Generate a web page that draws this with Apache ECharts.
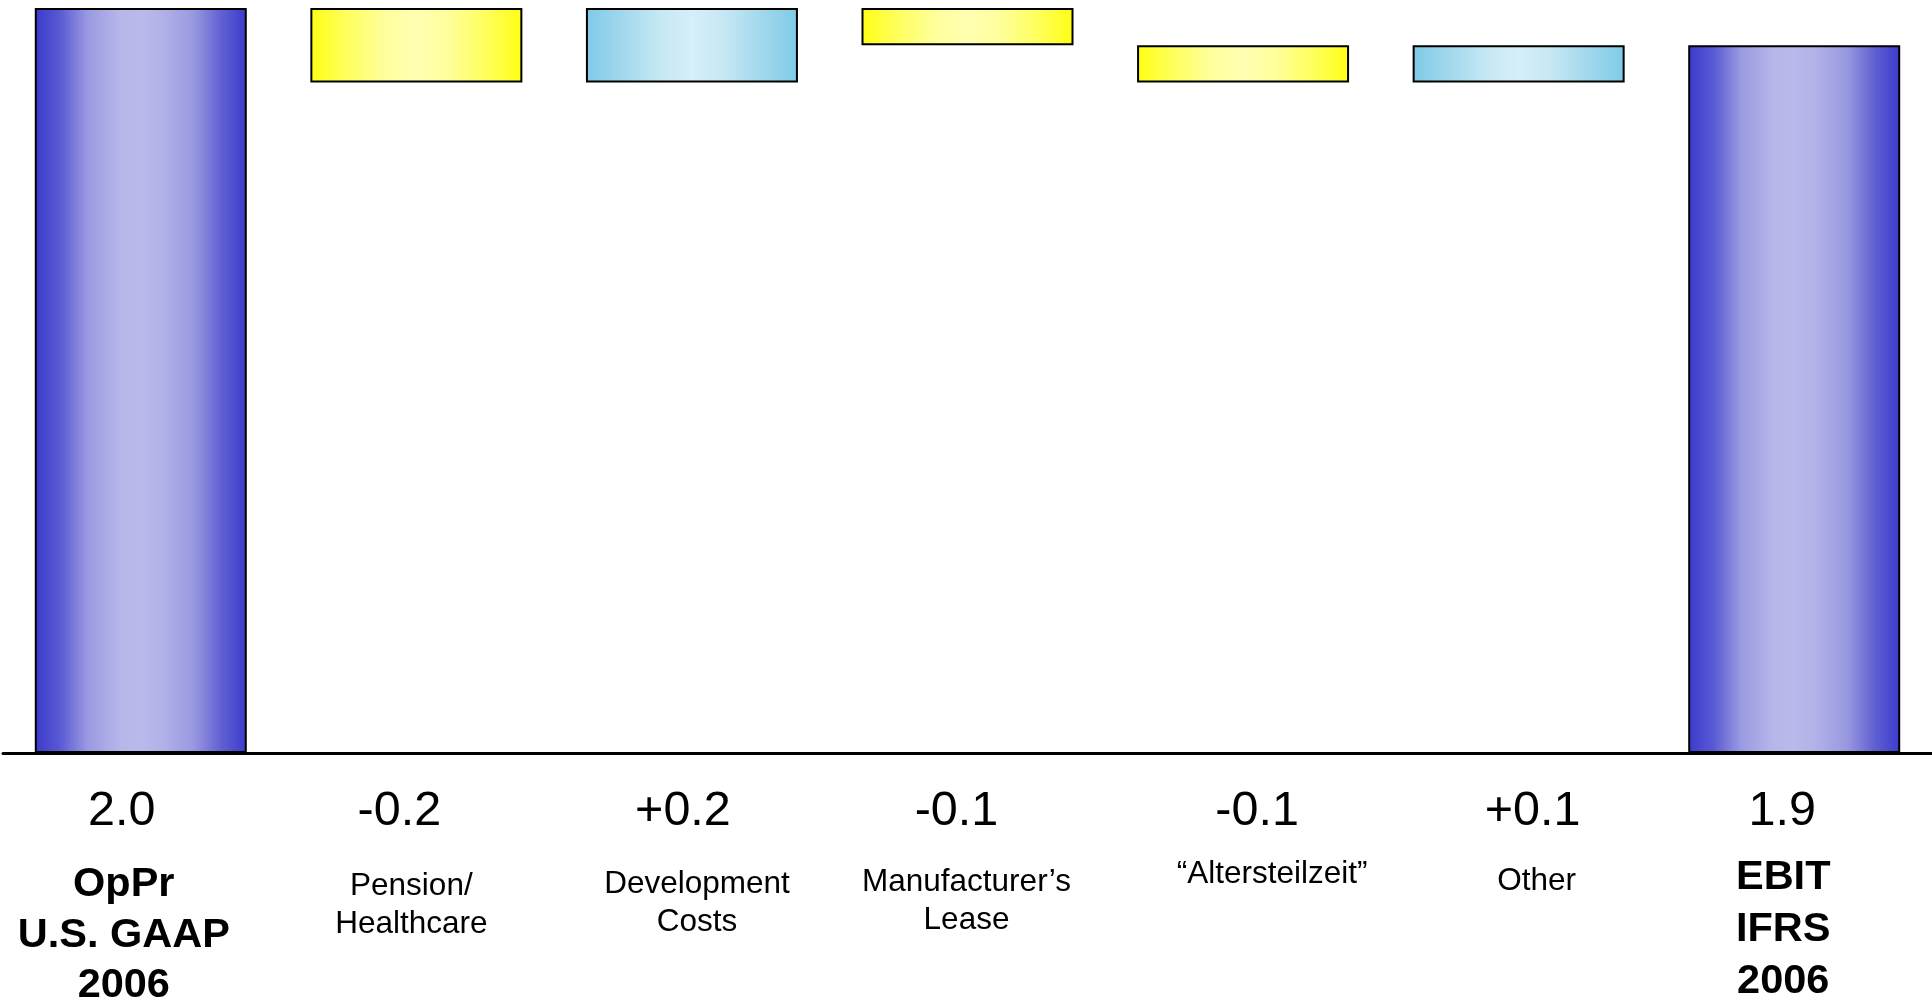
<!DOCTYPE html>
<html>
<head>
<meta charset="utf-8">
<title>OpPr U.S. GAAP 2006 to EBIT IFRS 2006</title>
<script src="https://cdn.jsdelivr.net/npm/echarts@6/dist/echarts.min.js"></script>
<style>
  html, body { margin: 0; padding: 0; background: #ffffff; }
  #chart { width: 1932px; height: 999px; }
</style>
</head>
<body>
<div id="chart"></div>
<script>
// Bridge from U.S. GAAP operating profit to IFRS EBIT (2006)
const categories = [
  'OpPr\nU.S. GAAP\n2006',
  'Pension/\nHealthcare',
  'Development\nCosts',
  'Manufacturer’s\nLease',
  '“Altersteilzeit”',
  'Other',
  'EBIT\nIFRS\n2006'
];
// 'total' bars stand on zero, 'delta' bars float on the running level
const kinds = ['total', 'delta', 'delta', 'delta', 'delta', 'delta', 'total'];
const values = [2.0, -0.2, 0.2, -0.1, -0.1, 0.1, 1.9];

// Per-category label layout: horizontal nudges of the value / name lines,
// gap above the name block and the name line height
const labelLayout = [
  { dv: -19, dn: -17, gap: 9.5, lh: 50.5, bold: true },
  { dv: -17, dn: -5,  gap: 17,  lh: 38 },
  { dv: -9,  dn: 5,   gap: 15,  lh: 38 },
  { dv: -11, dn: -1,  gap: 14,  lh: 37.5 },
  { dv: 14,  dn: 29,  gap: 6,   lh: 36 },
  { dv: 14,  dn: 18,  gap: 13,  lh: 36 },
  { dv: -12, dn: -11, gap: 2,   lh: 51.7, bold: true }
];

const FONT = '"Liberation Sans", Arial, Helvetica, sans-serif';

function hGrad(stops) {
  return new echarts.graphic.LinearGradient(0, 0, 1, 0,
    stops.map(s => ({ offset: s[0], color: s[1] })));
}
const totalFill = () => hGrad([
  [0, '#3a3acc'], [0.12, '#5a5ad4'], [0.25, '#9a9ae2'], [0.4, '#b6b6ea'],
  [0.5, '#b9b9eb'], [0.6, '#b2b2e9'], [0.75, '#9898e0'], [0.88, '#6060d3'], [1, '#3a3acc']
]);
const downFill = () => hGrad([
  [0, '#ffff12'], [0.15, '#ffff55'], [0.35, '#ffff9c'], [0.5, '#ffffb2'],
  [0.65, '#ffff9c'], [0.85, '#ffff55'], [1, '#ffff12']
]);
const upFill = () => hGrad([
  [0, '#7ecae6'], [0.15, '#9dd6ec'], [0.35, '#c6e8f4'], [0.5, '#d6eff8'],
  [0.65, '#c6e8f4'], [0.85, '#9dd6ec'], [1, '#7ecae6']
]);

// Waterfall geometry: invisible base + visible segment
const baseData = [];
const barData = [];
let level = 0;
values.forEach((v, i) => {
  let base, h, fill;
  if (kinds[i] === 'total') {
    base = 0; h = v; level = v; fill = totalFill();
  } else if (v < 0) {
    base = level + v; h = -v; level += v; fill = downFill();
  } else {
    base = level; h = v; level += v; fill = upFill();
  }
  baseData.push(+base.toFixed(4));
  barData.push({ value: +h.toFixed(4), itemStyle: { color: fill } });
});

function valueText(i) {
  const v = values[i];
  if (kinds[i] === 'total') return v.toFixed(1);
  return (v > 0 ? '+' : '') + v.toFixed(1);
}

function shiftPad(d) {
  return d >= 0 ? [0, 0, 0, 2 * d] : [0, -2 * d, 0, 0];
}

const rich = {};
labelLayout.forEach((L, i) => {
  rich['v' + i] = {
    fontFamily: FONT, fontSize: 48.5, color: '#000', lineHeight: 76,
    padding: shiftPad(L.dv)
  };
  rich['g' + i] = { fontSize: 1, lineHeight: L.gap };
  rich['n' + i] = {
    fontFamily: FONT, fontSize: L.bold ? 41.5 : 31.5,
    fontWeight: L.bold ? 'bold' : 'normal', color: '#000',
    lineHeight: L.lh, padding: shiftPad(L.dn)
  };
});

const chart = echarts.init(document.getElementById('chart'), null, { renderer: 'canvas' });
chart.setOption({
  animation: false,
  backgroundColor: '#ffffff',
  grid: { left: 3, right: 0, top: 8, bottom: 246, containLabel: false, outerBoundsMode: 'none' },
  xAxis: {
    type: 'category',
    data: categories,
    axisLine: { show: true, lineStyle: { color: '#000', width: 3 } },
    axisTick: { show: false },
    splitLine: { show: false },
    axisLabel: {
      interval: 0,
      margin: 21,
      align: 'center',
      hideOverlap: false,
      formatter: (name, idx) => {
        const i = categories.indexOf(name);
        const lines = name.split('\n').map(s => '{n' + i + '|' + s + '}');
        return '{v' + i + '|' + valueText(i) + '}\n{g' + i + '| }\n' + lines.join('\n');
      },
      rich: rich
    }
  },
  yAxis: {
    type: 'value',
    min: 0,
    max: 2.0,
    show: false,
    splitLine: { show: false }
  },
  series: [
    {
      type: 'bar',
      stack: 'bridge',
      barWidth: 212,
      silent: true,
      itemStyle: { color: 'rgba(0,0,0,0)', borderWidth: 0 },
      data: baseData
    },
    {
      type: 'bar',
      stack: 'bridge',
      barWidth: 212,
      itemStyle: { borderColor: '#000', borderWidth: 2 },
      data: barData
    }
  ]
});
</script>
</body>
</html>
